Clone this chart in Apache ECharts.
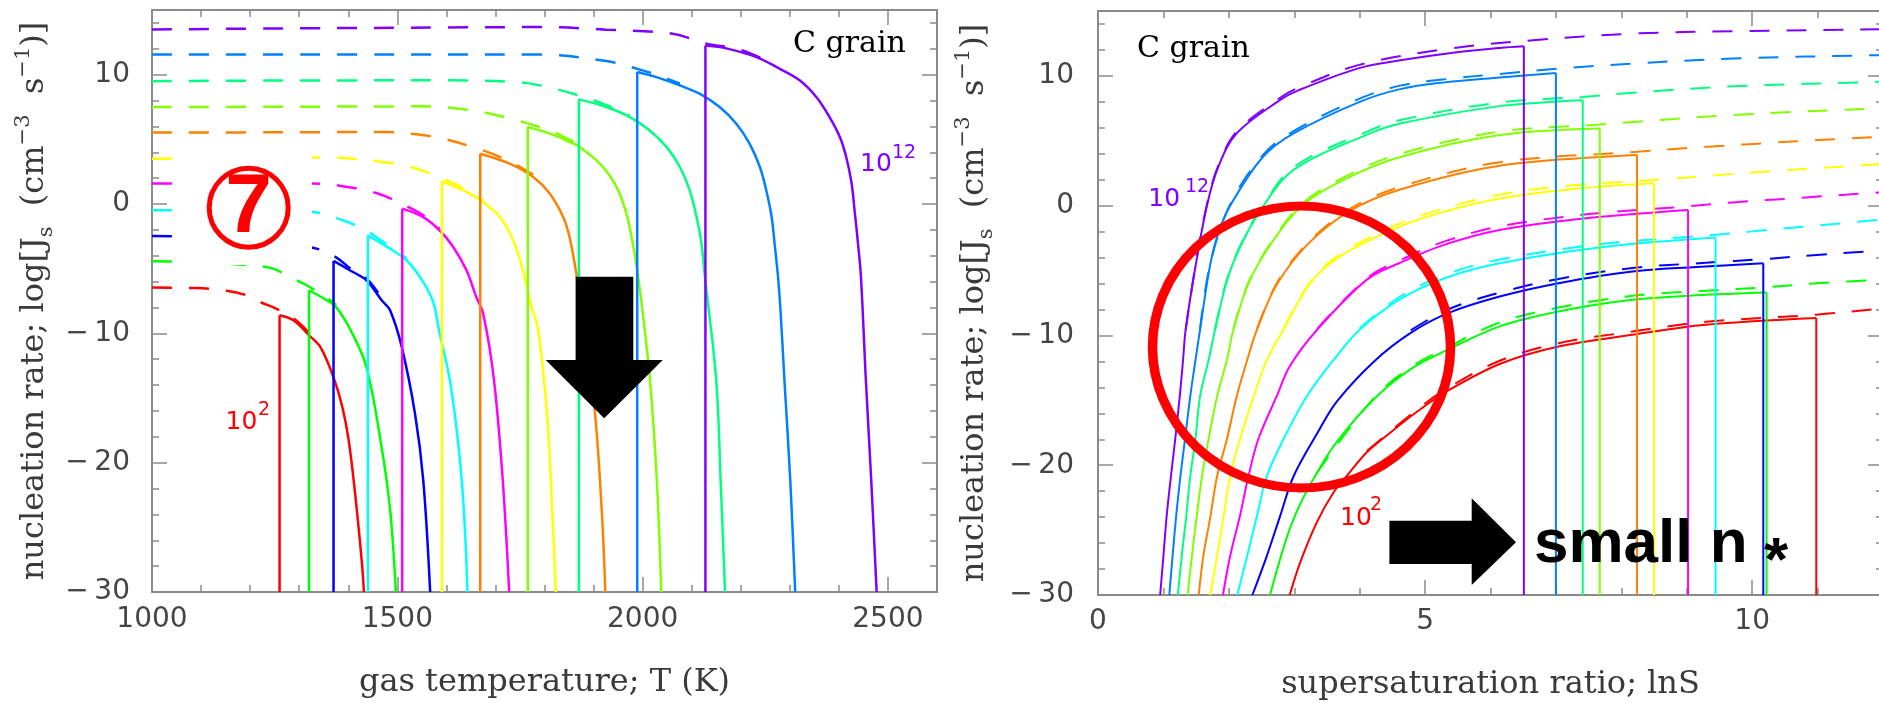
<!DOCTYPE html>
<html><head><meta charset="utf-8">
<script src="https://cdn.jsdelivr.net/npm/echarts@6/dist/echarts.min.js"></script>
<style>html,body{margin:0;padding:0;background:#fff}#c{width:1879px;height:703px}</style>
</head><body><div id="c"></div>
<script>
// ---------- tick labels / ranges ----------
const tempTicks = [1000, 1500, 2000, 2500];
const lnSTicks = [0, 5, 10];
const rateTicks = [-30, -20, -10, 0, 10];
const tempRange = [1000, 2600];
const lnSRange = [0, 12];
const rateRange = [-30, 15];

// ---------- left panel: log J_s vs T (solid = with cut-off, dashed = full) ----------
const T_solid_c2  = [[1260,-8.6],[1289,-9.0],[1320,-10.15],[1343,-11.05],[1370,-13.4],[1388,-15.7],[1401,-18.3],[1414,-22.4],[1428,-27.8],[1432,-30]];
const T_solid_c3  = [[1320,-6.67],[1356,-7.44],[1376,-8.0],[1405,-9.76],[1437,-12.6],[1468,-18.8],[1486,-23.9],[1497,-30]];
const T_solid_c4  = [[1370,-4.4],[1403,-5.12],[1437,-5.9],[1468,-7.44],[1485,-8.2],[1509,-11.05],[1536,-16.2],[1553,-21.4],[1567,-30]];
const T_solid_c5  = [[1440,-2.42],[1485,-3.45],[1519,-4.35],[1546,-5.64],[1566,-6.92],[1576,-7.96],[1585,-9.76],[1607,-13.6],[1625,-18.8],[1636,-23.9],[1643,-30]];
const T_solid_c6  = [[1510,-0.36],[1552,-1.0],[1586,-2.03],[1614,-3.32],[1641,-5.12],[1661,-7.19],[1675,-8.47],[1697,-13.6],[1715,-21.4],[1728,-30]];
const T_solid_c7  = [[1591,1.75],[1641,0.93],[1675,0.15],[1709,-1.0],[1736,-2.8],[1756,-5.12],[1770,-7.44],[1787,-9.76],[1805,-16.2],[1816,-23.9],[1823,-30]];
const T_solid_c8  = [[1669,3.89],[1729,3.12],[1777,2.09],[1811,0.8],[1838,-1.0],[1851,-2.55],[1865,-5.4],[1882,-10],[1903,-16.2],[1917,-23.9],[1924,-30]];
const T_solid_c9  = [[1766,5.95],[1811,5.44],[1851,4.8],[1872,4.4],[1913,3.12],[1947,1.31],[1967,-0.74],[1980,-3.06],[1991,-5.64],[1998,-7.7],[2015,-13.6],[2029,-21.4],[2038,-30]];
const T_solid_c10 = [[1870,8.09],[1926,7.5],[1974,6.72],[2014,5.7],[2049,4.4],[2076,2.86],[2096,1.06],[2110,-1.0],[2120,-3.06],[2127,-5.64],[2150,-13.6],[2159,-21.4],[2168,-30]];
const T_solid_c11 = [[1989,10.2],[2028,9.81],[2076,9.17],[2116,8.53],[2157,7.5],[2191,6.21],[2218,4.67],[2239,2.86],[2252,1.06],[2263,-1.0],[2269,-3.06],[2276,-5.64],[2281,-8.2],[2289,-13.6],[2301,-21.4],[2311,-30]];
const T_solid_c12 = [[2128,12.26],[2164,12.09],[2232,11.36],[2279,10.46],[2320,9.56],[2354,8.27],[2381,6.72],[2402,5.18],[2415,3.63],[2426,1.58],[2432,-0.49],[2439,-3.06],[2445,-5.64],[2455,-13.6],[2466,-21.4],[2477,-30]];

const T_dash_c2  = [[1000,-6.46],[1090,-6.5],[1152,-6.7],[1192,-7.05],[1220,-7.57],[1254,-8.1],[1289,-8.85],[1320,-9.95]];
const T_dash_c3  = [[1000,-4.43],[1100,-4.5],[1200,-4.75],[1247,-5.0],[1281,-5.64],[1315,-6.28],[1356,-7.25],[1376,-7.8]];
const T_dash_c4  = [[1000,-2.47],[1100,-2.55],[1200,-2.75],[1330,-3.4],[1376,-4.14],[1403,-4.95],[1437,-5.75],[1468,-7.25]];
const T_dash_c5  = [[1000,-0.49],[1200,-0.52],[1328,-0.62],[1389,-1.26],[1430,-1.9],[1440,-2.1],[1485,-3.3],[1519,-4.2]];
const T_dash_c6  = [[1000,1.58],[1200,1.6],[1328,1.58],[1376,1.45],[1457,0.85],[1512,-0.05],[1552,-0.85],[1586,-1.9]];
const T_dash_c7  = [[1000,3.5],[1200,3.55],[1349,3.6],[1471,3.25],[1539,2.73],[1593,1.96],[1641,1.1],[1675,0.3]];
const T_dash_c8  = [[1000,5.52],[1300,5.55],[1471,5.57],[1539,5.39],[1593,5.05],[1670,4.2],[1729,3.3],[1777,2.25]];
const T_dash_c9  = [[1000,7.5],[1300,7.52],[1539,7.55],[1607,7.45],[1674,7.1],[1743,6.47],[1790,5.95],[1831,5.35],[1872,4.55]];
const T_dash_c10 = [[1000,9.5],[1300,9.55],[1607,9.56],[1743,9.43],[1791,9.17],[1870,8.4],[1926,7.65],[1974,6.85]];
const T_dash_c11 = [[1000,11.55],[1400,11.55],[1791,11.55],[1926,11.05],[1989,10.45],[2028,10.0],[2076,9.3]];
const T_dash_c12 = [[1000,13.5],[1300,13.58],[1600,13.65],[1791,13.68],[1926,13.48],[2061,13.17],[2128,12.42],[2198,11.93],[2266,10.85]];

// ---------- right panel: log J_s vs lnS ----------
const S_solid_c2  = [[2.93,-30],[3.09,-27.5],[3.345,-24.4],[3.6,-22.1],[3.8,-20.85],[4.11,-19.0],[4.515,-17.3],[4.87,-15.9],[5.3,-14.4],[6.14,-12.2],[7.04,-10.85],[8.17,-9.95],[9.29,-9.18],[10.98,-8.66]];
const S_solid_c3  = [[2.63,-30],[2.89,-25.5],[3.09,-23.0],[3.345,-20.6],[3.65,-18.2],[4.22,-14.9],[4.78,-12.6],[5.35,-11.1],[6.14,-9.3],[7.04,-8.15],[8.17,-7.25],[9.29,-6.87],[10.22,-6.69]];
const S_solid_c4  = [[2.36,-30],[2.58,-27],[2.785,-23.9],[2.99,-20.85],[3.345,-17.6],[3.65,-15.1],[4.22,-12.0],[4.78,-9.8],[5.35,-8.28],[6.14,-7.0],[7.04,-5.97],[8.17,-5.07],[9.29,-4.69],[10.17,-4.43]];
const S_solid_c5  = [[2.13,-30],[2.28,-27],[2.43,-23.9],[2.58,-20.85],[2.835,-18],[3.19,-14.7],[3.6,-11.9],[4.0,-9.56],[4.62,-7.2],[5.35,-5.5],[6.14,-4.43],[7.7,-3.2],[9.44,-2.46]];
const S_solid_c6  = [[1.91,-30],[2.02,-27],[2.17,-23.9],[2.30,-20.85],[2.45,-18],[2.73,-14.7],[2.94,-12.3],[3.35,-9.56],[4.11,-5.7],[4.62,-4.4],[5.3,-3.0],[6.14,-1.87],[7.5,-0.95],[9.02,-0.33]];
const S_solid_c7  = [[1.715,-30],[1.82,-27],[1.92,-23.9],[2.02,-20.85],[2.17,-18],[2.38,-14.7],[2.58,-11.9],[2.835,-9.56],[3.24,-6.0],[3.7,-3.9],[4.62,-1.6],[5.3,-0.45],[6.14,0.55],[7.2,1.25],[8.5,1.72]];
const S_solid_c8  = [[1.54,-30],[1.61,-27],[1.72,-23.9],[1.82,-20.85],[1.97,-18],[2.12,-14.7],[2.28,-11.9],[2.43,-9.56],[2.73,-6.1],[3.2,-3.0],[3.85,-0.4],[4.62,1.25],[6.14,3.08],[8.24,3.9]];
const S_solid_c9  = [[1.37,-30],[1.435,-27],[1.51,-23.9],[1.59,-20.85],[1.69,-18],[1.82,-14.7],[1.97,-11.9],[2.07,-9.56],[2.3,-6.0],[2.65,-2.9],[3.12,0],[3.8,2.1],[4.62,3.75],[6.14,5.44],[7.67,5.95]];
const S_solid_c10 = [[1.22,-30],[1.28,-27],[1.35,-23.9],[1.41,-20.85],[1.49,-18],[1.56,-14.7],[1.69,-11.9],[1.79,-9.56],[1.97,-5.8],[2.2,-2.9],[2.53,0],[3.0,2.8],[4.16,5.57],[4.62,6.33],[6.14,7.67],[7.41,8.13]];
const S_solid_c11 = [[1.09,-30],[1.14,-27],[1.195,-23.9],[1.26,-20.85],[1.33,-18],[1.41,-14.7],[1.49,-11.9],[1.56,-9.56],[1.71,-4.69],[1.84,-2.1],[2.02,0],[2.52,3.75],[2.99,5.57],[4.0,8.0],[4.62,8.98],[5.3,9.5],[6.14,9.88],[7.0,10.23]];
const S_solid_c12 = [[0.95,-30],[1.0,-27],[1.05,-23.9],[1.115,-20.85],[1.18,-18],[1.25,-14.7],[1.30,-11.9],[1.34,-9.56],[1.49,-4.69],[1.665,0],[1.84,3.0],[2.12,5.57],[2.78,8.13],[3.07,8.9],[3.99,10.6],[4.62,11.2],[5.37,11.75],[6.14,12.15],[6.51,12.28]];

const S_dash_c2  = [[4.11,-18.9],[4.87,-15.75],[5.3,-14.2],[6.14,-11.95],[7.04,-10.6],[8.17,-9.7],[9.29,-8.95],[10.98,-8.4],[11.94,-7.95],[12.1,-7.9]];
const S_dash_c3  = [[3.345,-20.6],[4.22,-14.8],[4.78,-12.45],[5.35,-10.9],[6.14,-9.0],[7.04,-7.85],[8.17,-6.95],[9.29,-6.55],[10.22,-6.28],[10.99,-5.97],[11.94,-5.72],[12.1,-5.7]];
const S_dash_c4  = [[4.78,-9.6],[5.35,-8.0],[6.14,-6.7],[7.04,-5.65],[8.17,-4.8],[9.29,-4.4],[10.17,-4.12],[10.99,-3.8],[11.7,-3.55],[12.1,-3.45]];
const S_dash_c5  = [[4.0,-9.45],[4.62,-7.0],[5.35,-5.25],[6.14,-4.15],[7.7,-2.95],[9.44,-2.25],[9.96,-2.0],[10.73,-1.65],[11.94,-1.1],[12.1,-1.05]];
const S_dash_c6  = [[3.35,-9.5],[4.11,-5.6],[4.62,-4.2],[5.3,-2.75],[6.14,-1.6],[7.5,-0.65],[9.02,-0.05],[9.71,0.25],[10.73,0.6],[11.73,0.95],[12.1,1.05]];
const S_dash_c7  = [[2.835,-9.5],[3.24,-5.9],[3.7,-3.75],[4.62,-1.35],[5.3,-0.2],[6.14,0.85],[7.2,1.55],[8.5,1.98],[9.71,2.45],[10.73,2.8],[11.94,3.2],[12.1,3.22]];
const S_dash_c8  = [[2.43,-9.5],[2.73,-6.0],[3.2,-2.9],[3.85,-0.25],[4.62,1.45],[6.14,3.35],[8.24,4.15],[9.05,4.45],[9.6,4.63],[10.17,4.81],[10.73,4.98],[11.29,5.13],[11.94,5.3],[12.1,5.33]];
const S_dash_c9  = [[2.07,-9.5],[2.3,-5.9],[2.65,-2.8],[3.12,0.15],[3.8,2.3],[4.62,4.0],[6.14,5.7],[7.67,6.25],[8.18,6.45],[9.71,6.98],[11.94,7.49],[12.1,7.5]];
const S_dash_c10 = [[1.79,-9.5],[1.97,-5.7],[2.2,-2.8],[2.53,0.1],[3.0,3.0],[4.16,5.8],[4.62,6.6],[6.14,7.95],[7.41,8.38],[8.18,8.7],[9.71,9.2],[11.94,9.54],[12.1,9.56]];
const S_dash_c11 = [[1.56,-9.5],[1.71,-4.6],[2.02,0.1],[2.52,3.9],[2.99,5.75],[4.0,8.25],[4.62,9.25],[5.3,9.75],[6.14,10.15],[7.0,10.55],[8.18,10.95],[9.71,11.34],[11.94,11.6],[12.1,11.62]];
const S_dash_c12 = [[1.34,-9.56],[1.49,-4.6],[1.665,0.1],[1.84,3.1],[2.12,5.7],[2.78,8.3],[3.07,9.1],[3.99,10.85],[5.37,12.1],[6.65,12.75],[8.18,13.26],[9.71,13.44],[11.94,13.6],[12.1,13.62]];

const leftSolid  = [T_solid_c2,T_solid_c3,T_solid_c4,T_solid_c5,T_solid_c6,T_solid_c7,T_solid_c8,T_solid_c9,T_solid_c10,T_solid_c11,T_solid_c12];
const leftDash   = [T_dash_c2,T_dash_c3,T_dash_c4,T_dash_c5,T_dash_c6,T_dash_c7,T_dash_c8,T_dash_c9,T_dash_c10,T_dash_c11,T_dash_c12];
const rightSolid = [S_solid_c2,S_solid_c3,S_solid_c4,S_solid_c5,S_solid_c6,S_solid_c7,S_solid_c8,S_solid_c9,S_solid_c10,S_solid_c11,S_solid_c12];
const rightDash  = [S_dash_c2,S_dash_c3,S_dash_c4,S_dash_c5,S_dash_c6,S_dash_c7,S_dash_c8,S_dash_c9,S_dash_c10,S_dash_c11,S_dash_c12];

// ---------- styles ----------
const colors = ['#ff0000','#00ff00','#0000ff','#00ffff','#ff00ff','#ffff00','#ff8000','#80ff00','#00ff80','#0080ff','#8000ff'];
const AX = '#8a8a8a';
const TICK_FONT = 'DejaVu Sans';
const TITLE_FONT = 'DejaVu Serif';
const fmtNum = v => (v < 0 ? '\u2212\u2009' + Math.abs(v) : String(v));

function xAxes(gi, range, major, minor, ticks, name, nameGap, labMargin) {
  const base = {gridIndex: gi, type: 'value', min: range[0], max: range[1], splitLine: {show: false}};
  const tk = (len) => ({show: true, inside: true, length: len, lineStyle: {color: AX, width: 1.5}});
  return [
    Object.assign({}, base, {position: 'bottom', interval: major,
      axisLine: {show: true, onZero: false, lineStyle: {color: AX, width: 2}}, axisTick: tk(15),
      axisLabel: {show: true, margin: labMargin, color: '#444', fontFamily: TICK_FONT, fontSize: 28,
        showMaxLabel: false, formatter: v => ticks.includes(v) ? fmtNum(v) : ''},
      name: name, nameLocation: 'middle', nameGap: nameGap,
      nameTextStyle: {fontFamily: TITLE_FONT, fontSize: 32, color: '#3a3a3a'}}),
    Object.assign({}, base, {position: 'bottom', interval: minor, axisLine: {show: false, onZero: false}, axisTick: tk(7), axisLabel: {show: false}}),
    Object.assign({}, base, {position: 'top', interval: major, axisLine: {show: true, onZero: false, lineStyle: {color: AX, width: 2}}, axisTick: tk(15), axisLabel: {show: false}}),
    Object.assign({}, base, {position: 'top', interval: minor, axisLine: {show: false, onZero: false}, axisTick: tk(7), axisLabel: {show: false}})
  ];
}
const yName = '{t|nucleation rate; log[J}{b|s}{t|  (cm}{p|\u22123}{t|  s}{p|\u22121}{t|)]}';
const yRich = {
  t: {fontFamily: TITLE_FONT, fontSize: 32, color: '#3a3a3a', lineHeight: 44, verticalAlign: 'middle'},
  p: {fontFamily: TITLE_FONT, fontSize: 21, color: '#3a3a3a', lineHeight: 21, verticalAlign: 'top'},
  b: {fontFamily: TITLE_FONT, fontSize: 21, color: '#3a3a3a', lineHeight: 21, verticalAlign: 'bottom'}
};
function yAxes(gi, nameGap, labMargin) {
  const base = {gridIndex: gi, type: 'value', min: rateRange[0], max: rateRange[1], splitLine: {show: false}};
  const tk = (len) => ({show: true, inside: true, length: len, lineStyle: {color: AX, width: 1.5}});
  return [
    Object.assign({}, base, {position: 'left', interval: 10,
      axisLine: {show: true, onZero: false, lineStyle: {color: AX, width: 2}}, axisTick: tk(15),
      axisLabel: {show: true, margin: labMargin, color: '#444', fontFamily: TICK_FONT, fontSize: 28,
        showMaxLabel: false, formatter: v => rateTicks.includes(v) ? fmtNum(v) : ''},
      name: yName, nameLocation: 'middle', nameGap: nameGap,
      nameTextStyle: {rich: yRich}}),
    Object.assign({}, base, {position: 'left', interval: 2, axisLine: {show: false, onZero: false}, axisTick: tk(7), axisLabel: {show: false}}),
    Object.assign({}, base, {position: 'right', interval: 10, axisLine: {show: true, onZero: false, lineStyle: {color: AX, width: 2}}, axisTick: tk(15), axisLabel: {show: false}}),
    Object.assign({}, base, {position: 'right', interval: 2, axisLine: {show: false, onZero: false}, axisTick: tk(7), axisLabel: {show: false}})
  ];
}

function mk(data, color, xi, yi, width, dashed, smooth) {
  return {type: 'line', xAxisIndex: xi, yAxisIndex: yi, data: data, symbol: 'none', showSymbol: false,
    smooth: smooth === false ? false : 0.35, silent: true, animation: false, z: dashed ? 2 : 3,
    lineStyle: {color: color, width: width, type: dashed ? [20, 17] : 'solid'}};
}
const series = [];
for (let i = 0; i < colors.length; i++) {
  const c = colors[i];
  series.push(mk(leftDash[i], c, 0, 0, 2.5, true));
  series.push(mk(leftSolid[i], c, 0, 0, 2.5, false));
  const a = leftSolid[i][0];
  series.push(mk([[a[0], rateRange[0]], [a[0], a[1]]], c, 0, 0, 2.5, false, false));
  series.push(mk(rightDash[i], c, 4, 4, 2, true));
  series.push(mk(rightSolid[i], c, 4, 4, 2, false));
  const b = rightSolid[i][rightSolid[i].length - 1];
  series.push(mk([[b[0], rateRange[0]], [b[0], b[1]]], c, 4, 4, 2, false, false));
}

function txt(x, y, s, font, fill, align) {
  return {type: 'text', x: x, y: y, z: 100,
    style: {text: s, font: font, fill: fill, align: align || 'left', textAlign: align || 'left', verticalAlign: 'middle', textVerticalAlign: 'middle'}};
}
const graphics = [
  // circled 7 with its white backing
  {type: 'rect', z: 90, shape: {x: 184, y: 148, width: 128, height: 117}, style: {fill: '#ffffff'}},
  {type: 'circle', z: 100, shape: {cx: 248.7, cy: 207.7, r: 39.5}, style: {fill: 'none', stroke: '#ff0000', lineWidth: 5}},
  txt(248.5, 209, '7', 'bold 84px "Liberation Sans"', '#ff0000', 'center'),
  // down arrow
  {type: 'polygon', z: 100, shape: {points: [[575.6,276.7],[633.3,276.7],[633.3,360],[662.8,360],[604.2,418.3],[545.7,360],[575.6,360]]}, style: {fill: '#000'}},
  // right arrow
  {type: 'polygon', z: 100, shape: {points: [[1389.4,520.7],[1471.7,520.7],[1471.7,498.3],[1516,542.3],[1471.7,585],[1471.7,564],[1389.4,564]]}, style: {fill: '#000'}},
  // red ellipse
  {type: 'circle', z: 100, x: 1301.5, y: 347, scaleX: 149 / 141, scaleY: 1, shape: {cx: 0, cy: 0, r: 141}, style: {fill: 'none', stroke: '#ff0000', lineWidth: 9}},
  txt(1534, 544.5, 'small n', 'bold 62px "Liberation Sans"', '#000'),
  txt(1764, 563, '*', 'bold 62px "Liberation Sans"', '#000'),
  txt(793, 44, 'C grain', '30px "DejaVu Serif"', '#000'),
  txt(1137, 49.5, 'C grain', '30px "DejaVu Serif"', '#000'),
  txt(860, 164.5, '10', '25px "DejaVu Sans"', '#8000ff'),
  txt(892, 153.4, '12', '19px "DejaVu Sans"', '#8000ff'),
  txt(225.6, 422, '10', '25px "DejaVu Sans"', '#ff0000'),
  txt(258, 410.4, '2', '19px "DejaVu Sans"', '#ff0000'),
  txt(1148.3, 199.6, '10', '25px "DejaVu Sans"', '#8000ff'),
  txt(1185, 186.7, '12', '19px "DejaVu Sans"', '#8000ff'),
  txt(1340, 518, '10', '25px "DejaVu Sans"', '#ff0000'),
  txt(1370, 505, '2', '19px "DejaVu Sans"', '#ff0000')
];

const chart = echarts.init(document.getElementById('c'), null, {renderer: 'canvas'});
chart.setOption({
  animation: false,
  backgroundColor: '#ffffff',
  grid: [
    {left: 152, top: 10, width: 785, height: 582, containLabel: false, outerBoundsMode: 'none'},
    {left: 1098, top: 11, width: 785, height: 584, containLabel: false, outerBoundsMode: 'none'}
  ],
  xAxis: [].concat(
    xAxes(0, tempRange, 500, 100, tempTicks, 'gas temperature; T (K)', 75, 14),
    xAxes(1, lnSRange, 5, 1, lnSTicks, 'supersaturation ratio; lnS', 74, 13)
  ),
  yAxis: [].concat(yAxes(0, 95, 22), yAxes(1, 101, 24)),
  series: series,
  graphic: {elements: graphics}
});
</script></body></html>
